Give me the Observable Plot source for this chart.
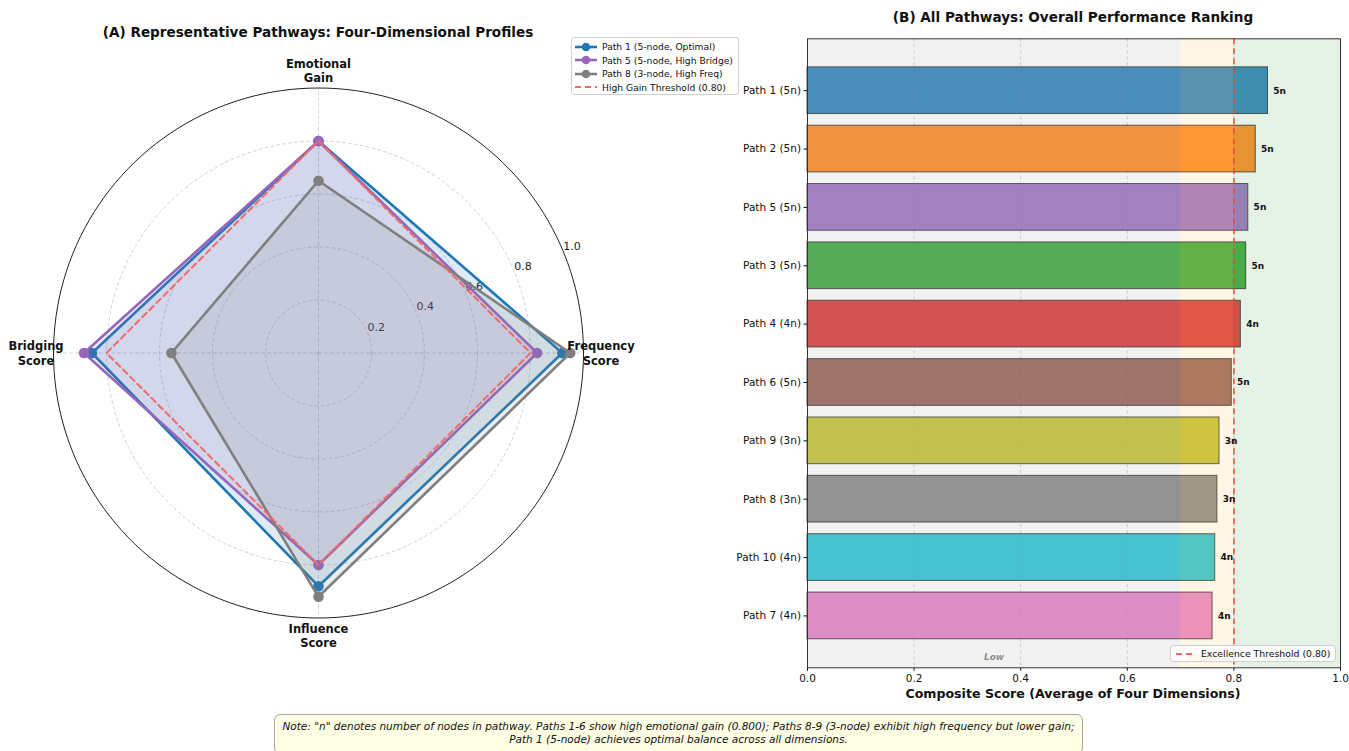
<!DOCTYPE html>
<html>
<head>
<meta charset="utf-8">
<script src="https://cdn.jsdelivr.net/npm/d3@7"></script>
<script src="https://cdn.jsdelivr.net/npm/@observablehq/plot@0.6"></script>
<style>
  html, body { margin: 0; padding: 0; background: #fff; }
  body { font-family: "DejaVu Sans", sans-serif; color: #111; }
  #fig { position: relative; width: 1349px; height: 751px; overflow: hidden; }
  .abs { position: absolute; }
  .title { font-weight: bold; font-size: 13.6px; white-space: nowrap; transform: translateX(-50%); }
  .legend { background: rgba(255,255,255,0.85); border: 1px solid #d0d0d0; border-radius: 3px; font-size: 9.2px; box-sizing: border-box; }
  .legend .row { display: flex; align-items: center; height: 13.5px; white-space: nowrap; }
  .legend svg { flex: none; margin-right: 4px; }
  .note { background: #fefee4; border: 1px solid #a8a8a0; border-radius: 6px; font-style: italic; font-size: 10.5px; text-align: center; line-height: 13px; box-sizing: border-box; padding-top: 5px; white-space: nowrap; }
</style>
</head>
<body>
<div id="fig"></div>
<script>
// ---- Four-dimension profiles of the representative pathways ----
const dimensions = ["Emotional\nGain", "Frequency\nScore", "Influence\nScore", "Bridging\nScore"];
const radarNames = ["Path 1 (5-node, Optimal)", "Path 5 (5-node, High Bridge)", "Path 8 (3-node, High Freq)"];
const radarColors = ["#1f77b4", "#9467bd", "#7f7f7f"];
const path1Scores = [0.80, 0.92, 0.88, 0.855];
const path5Scores = [0.80, 0.825, 0.80, 0.885];
const path8Scores = [0.65, 0.95, 0.92, 0.555];
const highGainThreshold = 0.80;
const ringLevels = [0.2, 0.4, 0.6, 0.8, 1.0];

// ---- Composite ranking of all pathways ----
const pathLabels = ["Path 1 (5n)", "Path 2 (5n)", "Path 5 (5n)", "Path 3 (5n)", "Path 4 (4n)",
                    "Path 6 (5n)", "Path 9 (3n)", "Path 8 (3n)", "Path 10 (4n)", "Path 7 (4n)"];
const nodeCounts = [5, 5, 5, 5, 4, 5, 3, 3, 4, 4];
const compositeScores = [0.864, 0.841, 0.827, 0.823, 0.813, 0.796, 0.773, 0.769, 0.765, 0.760];
const barColors = ["#1f77b4", "#ff7f0e", "#9467bd", "#2ca02c", "#d62728",
                   "#8c564b", "#bcbd22", "#7f7f7f", "#17becf", "#e377c2"];
const excellenceThreshold = 0.80;
const zoneNames = ["Low", "Medium", "High"];
const zoneBounds = [[0, 0.7], [0.7, 0.8], [0.8, 1.0]];
const zoneColors = ["gray", "orange", "green"];
const xTicks = [0, 0.2, 0.4, 0.6, 0.8, 1.0];

const FONT = "DejaVu Sans, sans-serif";
const fig = document.getElementById("fig");

function place(el, left, top) {
  el.classList.add("abs");
  el.style.left = left + "px";
  el.style.top = top + "px";
  fig.appendChild(el);
  return el;
}

// ================= Panel A: radar =================
// Axis i points clockwise from the top.
const angleOf = i => Math.PI / 2 - i * Math.PI / 2;
const polar = (r, a) => ({x: r * Math.cos(a), y: r * Math.sin(a)});

const profiles = [path1Scores, path5Scores, path8Scores].map((scores, k) =>
  scores.map((v, i) => ({...polar(v, angleOf(i)), name: radarNames[k], value: v})));
const thresholdRing = dimensions.map((d, i) => polar(highGainThreshold, angleOf(i)));

const circlePts = r => d3.range(0, 361, 2).map(deg => ({...polar(r, deg * Math.PI / 180), r}));
const gridRings = ringLevels.slice(0, -1).flatMap(r => circlePts(r));
const spokes = dimensions.flatMap((d, i) => [
  {...polar(0, angleOf(i)), i}, {...polar(1, angleOf(i)), i}]);
const tickAngle = 22.5 * Math.PI / 180;

const cx = 318, cy = 352.5, R = 265;

const radarMarks = [
  Plot.line(gridRings, {x: "x", y: "y", z: "r", stroke: "#c8c8c8", strokeWidth: 0.8, strokeDasharray: "3,3"}),
  Plot.line(spokes, {x: "x", y: "y", z: "i", stroke: "#c8c8c8", strokeWidth: 0.8, strokeDasharray: "3,3"}),
  Plot.line(circlePts(1), {x: "x", y: "y", stroke: "#222", strokeWidth: 1}),
  Plot.text(ringLevels, {
    x: v => polar(v, tickAngle).x, y: v => polar(v, tickAngle).y,
    text: v => v.toFixed(1), textAnchor: "start", lineAnchor: "bottom",
    fontSize: 11, fill: "#222", dx: 0, dy: -2
  })
];
profiles.forEach((pts, k) => {
  radarMarks.push(
    Plot.line(pts, {x: "x", y: "y", curve: "linear-closed", fill: radarColors[k], fillOpacity: 0.15, stroke: "none"}),
    Plot.line(pts, {x: "x", y: "y", curve: "linear-closed", stroke: radarColors[k], strokeWidth: 2.6, strokeLinejoin: "miter"}),
    Plot.dot(pts, {x: "x", y: "y", r: 5.3, fill: radarColors[k], stroke: "none"})
  );
});
radarMarks.push(
  Plot.line(thresholdRing, {x: "x", y: "y", curve: "linear-closed", stroke: "#f06a6a", strokeWidth: 2, strokeDasharray: "6,4"}),
  Plot.text(dimensions, {
    x: (d, i) => polar(1.066, angleOf(i)).x, y: (d, i) => polar(1.066, angleOf(i)).y,
    text: d => d, fontSize: 11.5, fontWeight: "bold", fill: "#111", lineHeight: 1.22,
    textAnchor: "middle", lineAnchor: "middle"
  })
);

const radar = Plot.plot({
  width: 660, height: 700,
  style: {fontFamily: FONT, background: "transparent", overflow: "visible"},
  x: {domain: [-1, 1], range: [cx - R, cx + R], axis: null},
  y: {domain: [-1, 1], range: [cy + R, cy - R], axis: null},
  marks: radarMarks
});
place(radar, 0, 0);

const titleA = document.createElement("div");
titleA.className = "title";
titleA.textContent = "(A) Representative Pathways: Four-Dimensional Profiles";
place(titleA, 318, 24);

// Radar legend
const legA = document.createElement("div");
legA.className = "legend";
legA.style.width = "168px";
legA.style.height = "58px";
legA.style.padding = "2px 0 0 2px";
radarNames.forEach((name, k) => {
  const row = document.createElement("div");
  row.className = "row";
  row.innerHTML = `<svg width="24" height="10"><line x1="1" x2="23" y1="5" y2="5" stroke="${radarColors[k]}" stroke-width="2.6"/><circle cx="12" cy="5" r="4.3" fill="${radarColors[k]}"/></svg><span></span>`;
  row.querySelector("span").textContent = name;
  legA.appendChild(row);
});
{
  const row = document.createElement("div");
  row.className = "row";
  row.innerHTML = `<svg width="24" height="10"><line x1="1" x2="23" y1="5" y2="5" stroke="#f06a6a" stroke-width="2" stroke-dasharray="6,4"/></svg><span></span>`;
  row.querySelector("span").textContent = `High Gain Threshold (${highGainThreshold.toFixed(2)})`;
  legA.appendChild(row);
}
place(legA, 571, 37);

// ================= Panel B: ranking bars =================
const bars = pathLabels.map((label, i) => ({
  label, i, score: compositeScores[i], nodes: nodeCounts[i], color: barColors[i]
}));
const zones = zoneNames.map((name, k) => ({
  name, x1: zoneBounds[k][0], x2: zoneBounds[k][1], color: zoneColors[k],
  mid: (zoneBounds[k][0] + zoneBounds[k][1]) / 2
}));
const zoneTextColor = {Low: "#808080", Medium: "#e0a040", High: "#2e8b2e"};

const bx0 = 700, bW = 649, bH = 700;
const rank = Plot.plot({
  width: bW, height: bH,
  marginLeft: 807 - bx0, marginRight: bx0 + bW - 1340,
  marginTop: 38.3, marginBottom: bH - 667.3,
  style: {fontFamily: FONT, background: "transparent", fontSize: "10px", color: "#111", overflow: "visible"},
  x: {domain: [0, 1]},
  y: {domain: [9.889, -0.889]},
  marks: [
    Plot.ruleX(xTicks.slice(1, -1), {stroke: "#c8c8c8", strokeWidth: 0.8, strokeDasharray: "3,3"}),
    Plot.rectX(bars, {
      x1: 0, x2: "score", y1: d => d.i - 0.4, y2: d => d.i + 0.4,
      fill: "color", fillOpacity: 0.82, stroke: "#333", strokeOpacity: 0.8, strokeWidth: 1
    }),
    Plot.rectX(zones, {x1: "x1", x2: "x2", y1: -0.889, y2: 9.889, fill: "color", fillOpacity: 0.1}),
    Plot.ruleX([excellenceThreshold], {stroke: "#e8453c", strokeOpacity: 0.8, strokeWidth: 1.8, strokeDasharray: "6,4"}),
    Plot.text(bars, {
      x: d => d.score + 0.01, y: "i", text: d => `${d.nodes}n`,
      textAnchor: "start", fontWeight: "bold", fontSize: 9, fill: "#111"
    }),
    Plot.text(zones, {
      x: "mid", y: 9.7, text: "name", fontStyle: "italic", fontWeight: "bold",
      fontSize: 9, fill: d => zoneTextColor[d.name], fillOpacity: 0.9
    }),
    Plot.axisX(xTicks, {tickFormat: d3.format(".1f"), tickSize: 3.5, fontSize: 10.5, label: null, tickPadding: 3}),
    Plot.axisY(d3.range(pathLabels.length), {
      tickFormat: i => pathLabels[i], tickSize: 3.5, fontSize: 10.5, label: null, tickPadding: 3
    }),
    Plot.frame({stroke: "#333", strokeWidth: 1})
  ]
});
place(rank, bx0, 0);

const titleB = document.createElement("div");
titleB.className = "title";
titleB.textContent = "(B) All Pathways: Overall Performance Ranking";
place(titleB, 1073, 9);

const xlab = document.createElement("div");
xlab.className = "title";
xlab.style.fontSize = "12.6px";
xlab.textContent = "Composite Score (Average of Four Dimensions)";
place(xlab, 1073, 686);

const legB = document.createElement("div");
legB.className = "legend";
legB.style.width = "166px";
legB.style.height = "17px";
legB.style.padding = "1px 0 0 4px";
legB.style.fontSize = "9.3px";
{
  const row = document.createElement("div");
  row.className = "row";
  row.innerHTML = `<svg width="22" height="10"><line x1="1" x2="21" y1="5" y2="5" stroke="#e8453c" stroke-opacity="0.8" stroke-width="1.8" stroke-dasharray="6,4"/></svg><span></span>`;
  row.querySelector("span").textContent = `Excellence Threshold (${excellenceThreshold.toFixed(2)})`;
  legB.appendChild(row);
}
place(legB, 1170, 645);

// ================= Footnote =================
const note = document.createElement("div");
note.className = "note";
note.style.width = "809px";
note.style.height = "40px";
note.innerHTML = 'Note: "n" denotes number of nodes in pathway. Paths 1-6 show high emotional gain (0.800); Paths 8-9 (3-node) exhibit high frequency but lower gain;<br>Path 1 (5-node) achieves optimal balance across all dimensions.';
place(note, 274, 714);
</script>
</body>
</html>
